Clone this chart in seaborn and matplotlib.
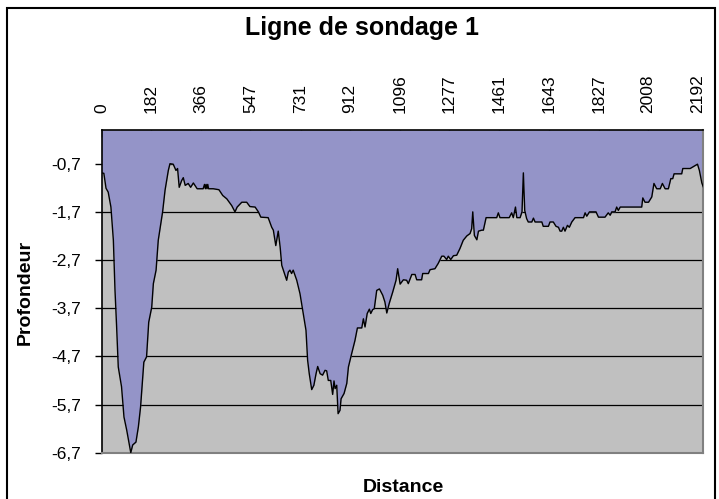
import matplotlib
matplotlib.use("Agg")
import matplotlib.pyplot as plt
import seaborn as sns
import pandas as pd
from matplotlib.patches import Rectangle

# profil (distance, profondeur)
distance = [0, 8, 16, 24, 34, 43, 49, 55, 61, 73, 82, 92, 107, 114, 126, 135, 143, 155, 165, 173,
            184, 190, 200, 208, 224, 233, 245, 251, 263, 273, 279, 285, 294, 300, 307, 318, 327, 337, 351, 373,
            378, 381, 384, 387, 390, 393, 410, 431, 445, 460, 478, 490, 498, 515, 533, 545, 564, 576, 585, 612,
            625, 631, 640, 649, 656, 662, 674, 680, 686, 692, 698, 704, 717, 729, 741, 751, 757, 763, 772, 780,
            788, 794, 803, 812, 821, 827, 833, 842, 849, 854, 858, 864, 869, 876, 880, 891, 901, 907, 919, 931,
            940, 956, 962, 968, 976, 984, 989, 996, 1002, 1011, 1021, 1033, 1041, 1048, 1057, 1070, 1082, 1088, 1097, 1109,
            1121, 1127, 1140, 1152, 1158, 1176, 1180, 1201, 1207, 1225, 1237, 1250, 1258, 1268, 1274, 1283, 1293, 1305, 1317, 1329,
            1342, 1354, 1360, 1364, 1370, 1379, 1385, 1397, 1403, 1413, 1452, 1458, 1464, 1498, 1507, 1513, 1521, 1526, 1538, 1545,
            1550, 1555, 1562, 1568, 1581, 1587, 1593, 1618, 1623, 1642, 1648, 1660, 1670, 1679, 1685, 1691, 1697, 1703, 1712, 1719,
            1728, 1740, 1771, 1777, 1783, 1793, 1817, 1826, 1850, 1862, 1869, 1875, 1887, 1893, 1899, 1906, 1985, 1989, 1997, 2010,
            2022, 2030, 2040, 2053, 2061, 2071, 2083, 2092, 2099, 2104, 2132, 2136, 2163, 2175, 2190, 2197, 2206, 2212]
profondeur = [-0.89, -0.90, -1.21, -1.29, -1.60, -2.29, -3.33, -4.09, -4.92, -5.33, -5.96, -6.23, -6.70, -6.54, -6.48, -6.16, -5.75, -4.82, -4.71, -3.99,
              -3.68, -3.19, -2.91, -2.29, -1.70, -1.25, -0.84, -0.70, -0.71, -0.84, -0.80, -1.19, -1.05, -0.99, -1.15, -1.11, -1.19, -1.10, -1.22, -1.22,
              -1.13, -1.22, -1.13, -1.22, -1.13, -1.22, -1.22, -1.24, -1.36, -1.43, -1.57, -1.70, -1.60, -1.50, -1.50, -1.59, -1.60, -1.70, -1.81, -1.82,
              -2.02, -2.08, -2.40, -2.10, -2.43, -2.81, -3.02, -3.12, -2.95, -2.91, -2.98, -2.91, -3.12, -3.40, -3.81, -4.16, -4.78, -5.06, -5.39, -5.30,
              -5.06, -4.91, -5.06, -5.09, -4.99, -5.00, -5.20, -5.20, -5.49, -5.21, -5.37, -5.30, -5.89, -5.82, -5.58, -5.47, -5.26, -4.92, -4.64, -4.37,
              -4.11, -4.11, -3.92, -4.09, -3.81, -3.72, -3.81, -3.73, -3.71, -3.33, -3.30, -3.43, -3.57, -3.80, -3.60, -3.36, -3.12, -2.88, -3.20, -3.11,
              -3.12, -3.19, -3.00, -3.00, -3.11, -3.11, -2.98, -2.98, -2.90, -2.88, -2.77, -2.62, -2.62, -2.69, -2.62, -2.69, -2.61, -2.60, -2.46, -2.29,
              -2.20, -2.15, -2.05, -1.70, -2.19, -2.28, -2.10, -2.08, -2.08, -1.82, -1.82, -1.72, -1.82, -1.82, -1.72, -1.82, -1.60, -1.82, -1.82, -1.70,
              -0.89, -1.67, -1.84, -1.91, -1.91, -1.83, -1.91, -1.91, -2.00, -2.00, -1.91, -1.91, -2.00, -2.02, -2.10, -2.10, -2.02, -2.10, -1.98, -2.02,
              -1.91, -1.82, -1.82, -1.72, -1.79, -1.70, -1.70, -1.81, -1.81, -1.72, -1.77, -1.70, -1.70, -1.60, -1.67, -1.60, -1.60, -1.41, -1.50, -1.50,
              -1.39, -1.11, -1.22, -1.22, -1.11, -1.22, -1.22, -1.01, -1.01, -0.91, -0.91, -0.80, -0.80, -0.76, -0.71, -0.84, -1.10, -1.19]

x_ticks = [0, 182, 366, 547, 731, 912, 1096, 1277, 1461, 1643, 1827, 2008, 2192]
y_ticks = [-0.7, -1.7, -2.7, -3.7, -4.7, -5.7, -6.7]
y_labels = ["-0,7", "-1,7", "-2,7", "-3,7", "-4,7", "-5,7", "-6,7"]

assert len(distance) == len(profondeur)

sns.set_style("white")
plt.rcParams["font.family"] = ["Liberation Sans", "DejaVu Sans"]
plt.rcParams["text.color"] = "black"
plt.rcParams["xtick.color"] = "black"
plt.rcParams["ytick.color"] = "black"

fig = plt.figure(figsize=(7.19, 4.99), dpi=100)
ax = fig.add_axes([0.1414, 0.0928, 0.837, 0.6467])
ax.set_facecolor("#C0C0C0")

df = pd.DataFrame({"Distance": distance, "Profondeur": profondeur})
ax.fill_between(df["Distance"], df["Profondeur"], 0, color="#9494C8", lw=0, zorder=2)
sns.lineplot(data=df, x="Distance", y="Profondeur", color="black", lw=1,
             estimator=None, sort=False, ax=ax, zorder=3)

ax.set_xlim(0, 2212)
ax.set_ylim(-6.7, 0)

# axe des distances en haut, graduations vers l'intérieur
ax.xaxis.tick_top()
ax.set_xticks(x_ticks)
ax.set_xticklabels([str(t) for t in x_ticks], rotation=90, fontsize=12.5)
ax.tick_params(axis="x", direction="in", length=5, width=1, colors="black", pad=12)
ax.set_yticks(y_ticks)
ax.set_yticklabels(y_labels, fontsize=12.5)
ax.tick_params(axis="y", direction="out", length=5, width=1, colors="black", pad=10, left=True)

ax.set_axisbelow(True)
ax.grid(axis="y", color="black", lw=0.9)
ax.grid(axis="x", visible=False)

for side in ["left", "top"]:
    ax.spines[side].set_color("black")
    ax.spines[side].set_linewidth(1.2)
for side in ["right", "bottom"]:
    ax.spines[side].set_color("#808080")
    ax.spines[side].set_linewidth(1.5)

ax.set_xlabel("")
ax.set_ylabel("")
fig.text(0.5035, 1 - 35 / 499, "Ligne de sondage 1", ha="center", va="baseline",
         fontsize=18, fontweight="bold", color="black")
fig.text(25 / 719, 1 - 292 / 499, "Profondeur", ha="center", va="center", rotation=90,
         fontsize=14, fontweight="bold", color="black")
fig.text(403 / 719, 1 - 487 / 499, "Distance", ha="center", va="center",
         fontsize=14, fontweight="bold", color="black")

fig.patches.append(Rectangle((7 / 719, -0.01), 708 / 719, 1 - 8 / 499 + 0.01,
                             transform=fig.transFigure, fill=False, ec="black", lw=1.5))

fig.savefig("out.png", dpi=100)
